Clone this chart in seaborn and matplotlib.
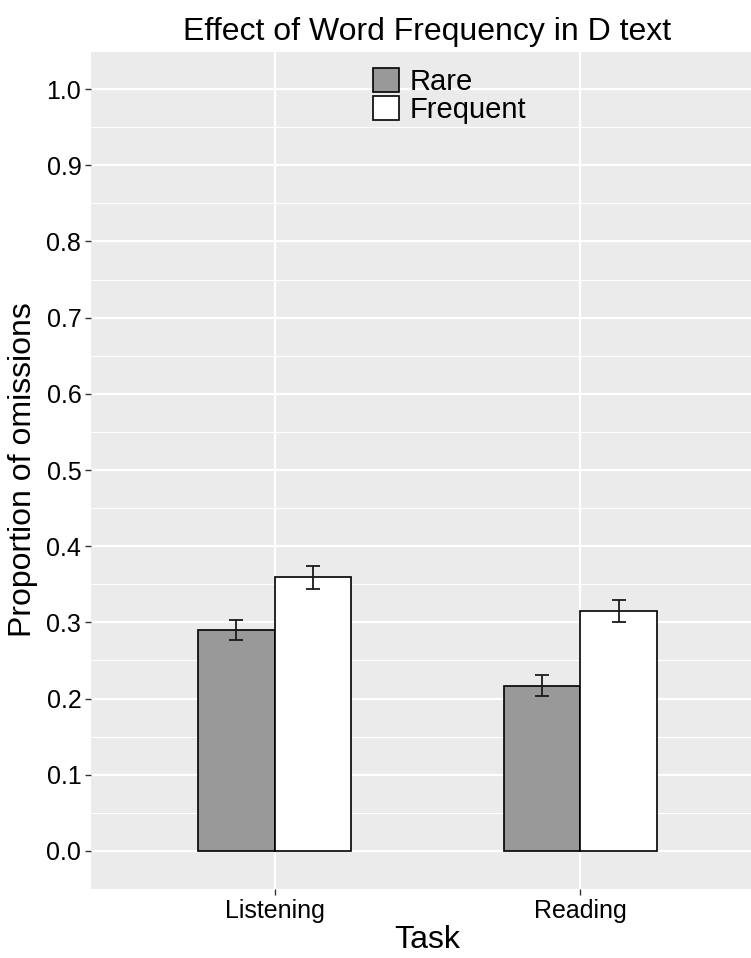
import pandas as pd
import seaborn as sns
import matplotlib.pyplot as plt
from matplotlib.patches import Patch
from matplotlib.ticker import MultipleLocator

# values
tasks = ["Listening", "Reading"]
levels = ["Rare", "Frequent"]
rare_mean = [0.290, 0.217]
freq_mean = [0.359, 0.315]
rare_se = [0.0135, 0.0133]
freq_se = [0.0155, 0.0148]
yticks = [0.0, 0.1, 0.2, 0.3, 0.4, 0.5, 0.6, 0.7, 0.8, 0.9, 1.0]

df = pd.DataFrame({
    "Task": tasks * 2,
    "Frequency": ["Rare"] * 2 + ["Frequent"] * 2,
    "prop": rare_mean + freq_mean,
    "se": rare_se + freq_se,
})

sns.set_theme(style="darkgrid", rc={
    "axes.facecolor": "#EBEBEB",
    "grid.color": "white",
    "axes.edgecolor": "#EBEBEB",
    "text.color": "black",
})
plt.rcParams["font.family"] = ["Liberation Sans", "DejaVu Sans"]

fig = plt.figure(figsize=(7.51, 9.58), dpi=100)
# panel runs slightly past the right edge, like the cropped original
ax = fig.add_axes([91 / 751, 1 - 889 / 958, (764 - 91) / 751, (889 - 51) / 958])

sns.barplot(data=df, x="Task", y="prop", hue="Frequency", hue_order=levels,
            order=tasks, palette={"Rare": "#999999", "Frequent": "white"},
            edgecolor="black", linewidth=1.2, width=0.5, errorbar=None,
            legend=False, ax=ax)

# standard-error bars placed on the drawn bars
for container, level in zip(ax.containers, levels):
    sub = df[df["Frequency"] == level].set_index("Task").loc[tasks]
    for bar, se in zip(container, sub["se"]):
        ax.errorbar(bar.get_x() + bar.get_width() / 2, bar.get_height(), yerr=se,
                    color="#1a1a1a", elinewidth=1.3, capsize=5.3, capthick=1.3,
                    zorder=5)

ax.set_xlim(-0.6, 1.6)
ax.set_ylim(-0.05, 1.05)
ax.set_yticks(yticks)
ax.set_yticklabels([f"{t:.1f}" for t in yticks])
ax.yaxis.set_minor_locator(MultipleLocator(0.05))
ax.grid(True, which="major", color="white", linewidth=1.6)
ax.grid(True, which="minor", axis="y", color="white", linewidth=0.8)
ax.set_axisbelow(True)
for s in ax.spines.values():
    s.set_visible(False)

ax.tick_params(axis="both", which="major", length=4, width=1, color="#333333",
               labelsize=18, labelcolor="black", pad=3, bottom=True, left=True)
ax.tick_params(axis="both", which="minor", length=0)

ax.set_xlabel("Task", fontsize=23, color="black", labelpad=2)
ax.set_ylabel("Proportion of omissions", fontsize=23, color="black", labelpad=6)
ax.set_title("Effect of Word Frequency in D text", fontsize=23, color="black", pad=8)

handles = [Patch(facecolor="#999999", edgecolor="black", linewidth=1.2),
           Patch(facecolor="white", edgecolor="black", linewidth=1.2)]
fig.legend(handles, levels, loc="upper left", bbox_to_anchor=(373 / 751, 1 - 68 / 958),
           frameon=False, fontsize=21, labelcolor="black", handlelength=0.88,
           handleheight=0.88, labelspacing=0.0, handletextpad=0.38, borderpad=0,
           borderaxespad=0)

fig.savefig("out.png", dpi=100)
